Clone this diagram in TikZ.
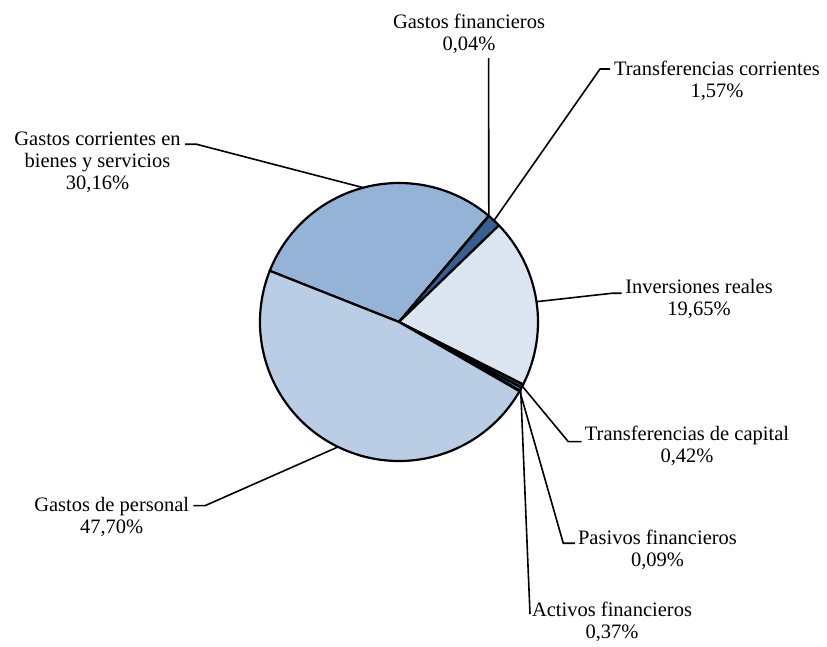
\documentclass[tikz,border=0pt]{standalone}
\usepackage{fontspec}
\setmainfont{Liberation Serif}
\definecolor{personal}{HTML}{B9CDE5}
\definecolor{corrientes}{HTML}{95B3D7}
\definecolor{gfin}{HTML}{4F81BD}
\definecolor{tcorr}{HTML}{376092}
\definecolor{inversion}{HTML}{DCE6F2}
\definecolor{tcap}{HTML}{254061}
\definecolor{activos}{HTML}{8EB4E3}
\definecolor{pasivos}{HTML}{C6D9F1}
\begin{document}
\begin{tikzpicture}[x=1pt,y=1pt,
    slice/.style={draw=black,line width=2.2pt,line join=round},
    leader/.style={draw=black,line width=1.6pt},
    lbl/.style={align=center,anchor=north,inner sep=0pt,font=\fontsize{20.5}{22}\selectfont}]
      \useasboundingbox (0,0) rectangle (827,647);
      \def \cx {399}
      \def \cy {325}
      \def \r {139}
      \coordinate (o) at (\cx,\cy);
      % slices, counter-clockwise: from / to / colour
      \foreach \a/\b/\c in {49.82/158.4/corrientes, 49.68/49.82/gfin, 44.03/49.68/tcorr,
          -26.71/44.03/inversion, -28.23/-26.71/tcap, -29.56/-28.23/activos,
          -29.88/-29.56/pasivos, -201.6/-29.88/personal}
      {
        \filldraw[slice,fill=\c] (o) -- ++(\a:\r) arc (\a:\b:\r) -- cycle;
      }
      % labels
      \node[lbl] (gf) at (469,633.5) {Gastos financieros\\0,04\%};
      \node[lbl] (tc) at (717,586) {Transferencias corrientes\\1,57\%};
      \node[lbl] (inv) at (699,368) {Inversiones reales\\19,65\%};
      \node[lbl] (tk) at (687,221.3) {Transferencias de capital\\0,42\%};
      \node[lbl] (pas) at (657.5,117) {Pasivos financieros\\0,09\%};
      \node[lbl] (act) at (612,44.7) {Activos financieros\\0,37\%};
      \node[lbl] (per) at (111.7,150.3) {Gastos de personal\\47,70\%};
      \node[lbl] (cor) at (97.5,515.3) {Gastos corrientes en\\bienes y servicios\\30,16\%};
      % leader lines: name / angle / bend / end
      \foreach \n/\ang/\bx/\by/\ex/\ey in {cor/104.9/196.7/502.7/185/502.7,
          gf/49.75/488.6/589/488.6/589, tc/46.9/600/578/610/578,
          inv/8.4/611.7/353.7/621.7/353.7, tk/-27.5/568.3/205.3/581.7/205.3,
          pas/-29.7/563.3/103.7/575/103.7, act/-28.9/530/33/530/33,
          per/244/205/141.3/193.3/141.3}
      {
        \path (o) ++(\ang:\r) coordinate (e-\n);
        \coordinate (k-\n) at (\bx,\by);
        \coordinate (t-\n) at (\ex,\ey);
        \draw[leader] (e-\n) -- (k-\n) -- (t-\n);
      }
\end{tikzpicture}
\end{document}
